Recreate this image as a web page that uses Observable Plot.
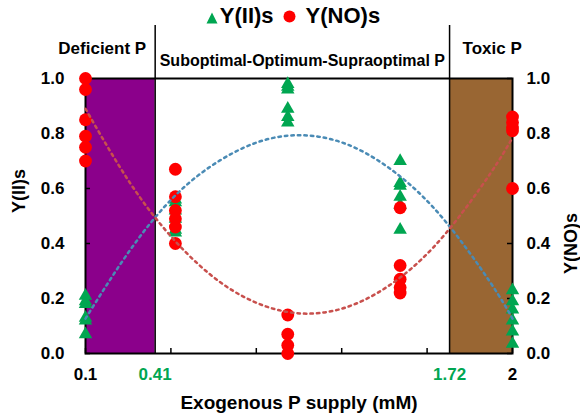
<!DOCTYPE html>
<html>
<head>
<meta charset="utf-8">
<script src="https://cdn.jsdelivr.net/npm/d3@7"></script>
<script src="https://cdn.jsdelivr.net/npm/@observablehq/plot@0.6"></script>
<style>
  body { margin: 0; background: #fff; }
  #chart { position: relative; width: 580px; height: 418px; font-family: "Liberation Sans", Arial, sans-serif; }
  #legend { position: absolute; left: 0; top: 3px; width: 580px; display: flex; justify-content: center; align-items: center;
            font-weight: bold; font-size: 22px; color: #000; padding-left: 6px; box-sizing: border-box; }
  #legend svg { display: block; }
</style>
</head>
<body>
<div id="chart">
  <div id="legend">
    <svg width="12" height="12" style="margin-right:2px;margin-top:3px"><path d="M6,0.5L11.5,11.5L0.5,11.5Z" fill="#00a651"/></svg>
    <span>Y(II)s</span>
    <svg width="13" height="13" style="margin:0 10px 0 9px"><circle cx="6.5" cy="6.5" r="6" fill="#ff0000"/></svg>
    <span>Y(NO)s</span>
  </div>
</div>
<script>
// Exogenous P supply levels (mM) at which yields were measured
const supply = [0.1, 0.5, 1.0, 1.5, 2.0];

// Quantum yield of PSII photochemistry, Y(II), replicates per supply level
const yII = [
  [0.21, 0.19, 0.18, 0.13, 0.12, 0.07],
  [0.56, 0.55, 0.52, 0.49, 0.45, 0.44],
  [0.98, 0.97, 0.96, 0.89, 0.86, 0.84],
  [0.70, 0.62, 0.61, 0.57, 0.54, 0.45],
  [0.23, 0.19, 0.16, 0.12, 0.08, 0.035]
];

// Quantum yield of non-regulated energy loss, Y(NO), replicates per supply level
const yNO = [
  [1.00, 0.96, 0.85, 0.79, 0.75, 0.70],
  [0.67, 0.57, 0.52, 0.49, 0.46, 0.40],
  [0.14, 0.07, 0.03, 0.00],
  [0.53, 0.32, 0.27, 0.24, 0.22],
  [0.86, 0.84, 0.82, 0.81, 0.60]
];

// Polynomial trend lines sampled along the supply axis
const trendX   = [0.1, 0.3, 0.5, 0.7, 0.9, 1.1, 1.3, 1.5, 1.7, 1.9, 2.0];
const trendII  = [0.127, 0.378, 0.575, 0.703, 0.777, 0.792, 0.748, 0.644, 0.482, 0.260, 0.127];
const trendNO  = [0.890, 0.618, 0.408, 0.259, 0.172, 0.145, 0.180, 0.276, 0.434, 0.653, 0.785];

// P status zones and their boundaries
const zoneBounds = [0.1, 0.41, 1.72, 2.0];
const zoneNames  = ["Deficient P", "Suboptimal-Optimum-Supraoptimal P", "Toxic P"];

// Axis ticks and labels
const xTicks = [0.1, 0.48, 0.86, 1.24, 1.62, 2.0];
const xLabelValues = [0.1, 0.41, 1.72, 2.0];
const xLabelText   = ["0.1", "0.41", "1.72", "2"];
const yTicks = [0, 0.2, 0.4, 0.6, 0.8, 1.0];

const GREEN = "#00a651", RED = "#ff0000";
const TREND_BLUE = "#4a8bb5", TREND_RED = "#c8504d";
const ZONE_FILL = ["#8b008b", null, "#996633"];

const W = 580, H = 418, mL = 85, mR = 68, mT = 78, mB = 65;
const innerW = W - mL - mR, innerH = H - mT - mB;

const ptsII = supply.flatMap((x, i) => yII[i].map(y => ({x, y})));
const ptsNO = supply.flatMap((x, i) => yNO[i].map(y => ({x, y})));
const lineII = trendX.map((x, i) => ({x, y: trendII[i]}));
const lineNO = trendX.map((x, i) => ({x, y: trendNO[i]}));
const zones = zoneNames.map((name, i) => ({name, x1: zoneBounds[i], x2: zoneBounds[i + 1], fill: ZONE_FILL[i]}));
const shaded = zones.filter(z => z.fill);
const dividers = zoneBounds.slice(1, -1);
const xLabels = xLabelValues.map((v, i) => ({v, text: xLabelText[i], boundary: dividers.includes(v)}));

const font = "Liberation Sans, Arial, sans-serif";

const chart = Plot.plot({
  width: W, height: H,
  marginLeft: mL, marginRight: mR, marginTop: mT, marginBottom: mB,
  x: {domain: [0.1, 2.0], axis: null},
  y: {domain: [0, 1], axis: null},
  style: {fontFamily: font, fontWeight: "bold", color: "#000", background: "transparent", overflow: "visible"},
  marks: [
    // zone shading
    Plot.rect(shaded, {x1: "x1", x2: "x2", y1: 0, y2: 1, fill: "fill"}),
    // zone dividers extending above the frame
    Plot.ruleX(dividers, {stroke: "#000", strokeWidth: 1.5, insetTop: -53}),
    // inward tick marks
    Plot.ruleY(yTicks, {stroke: "#000", strokeWidth: 1.5, insetRight: innerW - 5}),
    Plot.ruleY(yTicks, {stroke: "#000", strokeWidth: 1.5, insetLeft: innerW - 5}),
    Plot.ruleX(xTicks, {stroke: "#000", strokeWidth: 1.5, insetTop: innerH - 5}),
    // y tick labels on both sides
    Plot.axisY(yTicks, {anchor: "left", tickSize: 0, tickPadding: 21, tickFormat: d3.format(".1f"), label: null, fontSize: 17, fontWeight: "bold"}),
    Plot.axisY(yTicks, {anchor: "right", tickSize: 0, tickPadding: 14, tickFormat: d3.format(".1f"), label: null, fontSize: 17, fontWeight: "bold"}),
    Plot.frame({stroke: "#000", strokeWidth: 2}),
    // x labels: ends in black, zone boundaries in green
    Plot.text(xLabels, {x: "v", text: "text", frameAnchor: "bottom", dy: 26, fontSize: 17, fontWeight: "bold",
      fill: d => d.boundary ? GREEN : "#000"}),
    // observations
    Plot.dot(ptsII, {x: "x", y: "y", symbol: "triangle", r: 5, fill: GREEN}),
    Plot.dot(ptsNO, {x: "x", y: "y", r: 6.4, fill: RED}),
    // trend lines
    Plot.line(lineII, {x: "x", y: "y", curve: "natural", stroke: TREND_BLUE, strokeWidth: 2.5, strokeDasharray: "2.5 4"}),
    Plot.line(lineNO, {x: "x", y: "y", curve: "natural", stroke: TREND_RED, strokeWidth: 2.5, strokeDasharray: "2.5 4"}),
    // zone titles
    Plot.text([zones[0]], {x: "x2", text: "name", frameAnchor: "top", dy: -37, dx: -9, textAnchor: "end", fontSize: 17, fontWeight: "bold"}),
    Plot.text([zones[1]], {x: d => (d.x1 + d.x2) / 2, text: "name", frameAnchor: "top", dy: -24, fontSize: 16, fontWeight: "bold"}),
    Plot.text([zones[2]], {x: "x1", text: "name", frameAnchor: "top", dy: -37, dx: 13, textAnchor: "start", fontSize: 17, fontWeight: "bold"}),
    // axis titles
    Plot.text(["Y(II)s"], {frameAnchor: "left", dx: -66, dy: -3, rotate: -90, fontSize: 18, fontWeight: "bold"}),
    Plot.text(["Y(NO)s"], {frameAnchor: "right", dx: 59, dy: -3, rotate: -90, fontSize: 18, fontWeight: "bold"}),
    Plot.text(["Exogenous P supply (mM)"], {frameAnchor: "bottom", dy: 55, fontSize: 19, fontWeight: "bold"})
  ]
});

document.getElementById("chart").appendChild(chart);
</script>
</body>
</html>
